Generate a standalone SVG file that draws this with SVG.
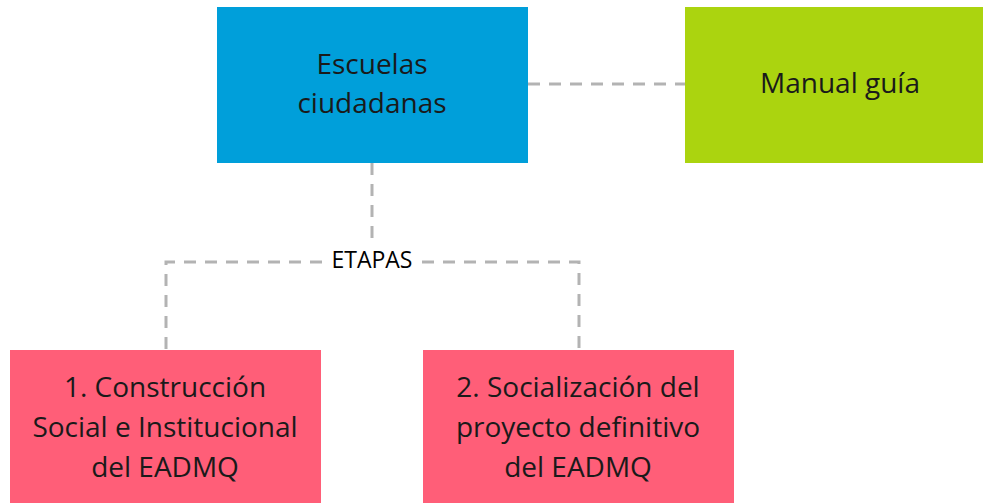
<svg xmlns="http://www.w3.org/2000/svg" width="983" height="503" viewBox="0 0 983 503">
<style>
.lbl{font-family:"Open Sans","Liberation Sans",sans-serif;font-size:28px;fill:#1a1a1a;text-anchor:middle}
.conn{fill:none;stroke:#b3b3b3;stroke-width:3;stroke-dasharray:12 9}
</style>
<rect width="983" height="503" fill="#ffffff"/>
<g id="connectors">
<path class="conn" d="M528 84 H685"/>
<path class="conn" d="M372 163 V240"/>
<path class="conn" d="M322 262 H166 V350"/>
<path class="conn" d="M422 262 H579 V350"/>
</g>
<g id="escuelas">
<rect x="217" y="7" width="311" height="156" fill="#009fda"/>
<text class="lbl" x="372" y="74">Escuelas</text>
<text class="lbl" x="372" y="113">ciudadanas</text>
</g>
<g id="manual">
<rect x="685" y="7" width="298" height="156" fill="#abd40f"/>
<text class="lbl" x="840" y="93">Manual guía</text>
</g>
<g id="etapas">
<text x="372" y="268" style="font-family:'Open Sans','Liberation Sans',sans-serif;font-size:23px;fill:#000;text-anchor:middle">ETAPAS</text>
</g>
<g id="etapa1">
<rect x="10" y="350" width="311" height="153" fill="#ff5e78"/>
<text class="lbl" x="165" y="397">1. Construcción</text>
<text class="lbl" x="165" y="437">Social e Institucional</text>
<text class="lbl" x="165" y="477">del EADMQ</text>
</g>
<g id="etapa2">
<rect x="423" y="350" width="311" height="153" fill="#ff5e78"/>
<text class="lbl" x="578" y="397">2. Socialización del</text>
<text class="lbl" x="578" y="437">proyecto definitivo</text>
<text class="lbl" x="578" y="477">del EADMQ</text>
</g>
</svg>
